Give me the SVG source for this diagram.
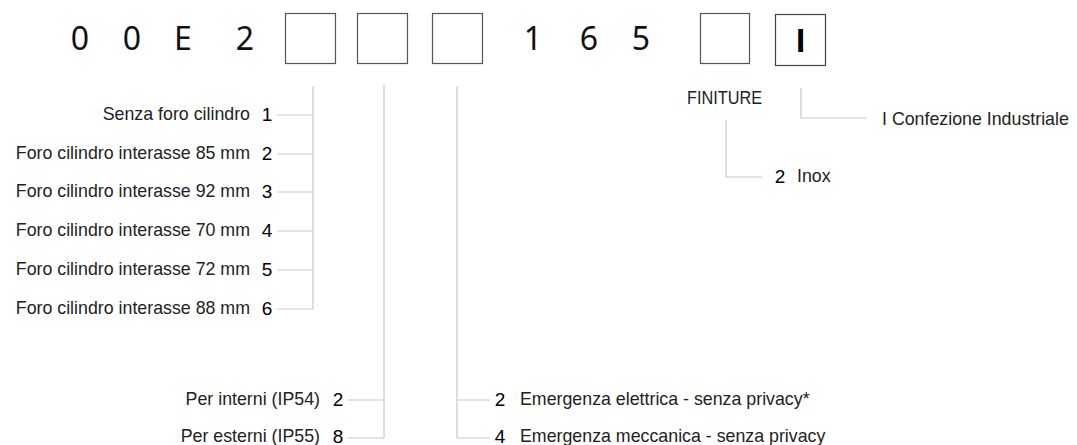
<svg xmlns="http://www.w3.org/2000/svg" width="1077" height="445" viewBox="0 0 1077 445">
<style>
.code{font-family:"Noto Sans","DejaVu Sans",sans-serif;font-size:32px;fill:#111;text-anchor:middle}
.bold{font-family:"Liberation Sans",Arial,sans-serif;font-weight:bold;font-size:33px;fill:#000;text-anchor:middle}
.box{fill:#fff;stroke:#555;stroke-width:1.2}
.lbl{font-family:"Liberation Sans",Arial,sans-serif;font-size:17.8px;fill:#222}
.num{font-family:"Liberation Sans",Arial,sans-serif;font-size:19px;fill:#000;text-anchor:middle}
.end{text-anchor:end}
.ln{fill:none;stroke:#c8c8c8;stroke-width:1.2}
</style>
<rect width="1077" height="445" fill="#fff"/>
<g id="code">
<text class="code" x="80" y="50">0</text>
<text class="code" x="132" y="50">0</text>
<text class="code" x="183" y="50">E</text>
<text class="code" x="245" y="50">2</text>
<rect class="box" x="285.5" y="13.5" width="50" height="50"/>
<rect class="box" x="357.5" y="13.5" width="50" height="50"/>
<rect class="box" x="432.5" y="13.5" width="50" height="50"/>
<text class="code" x="533" y="50">1</text>
<text class="code" x="589" y="50">6</text>
<text class="code" x="641" y="50">5</text>
<rect class="box" x="700.5" y="13.5" width="49" height="50"/>
<rect class="box" x="775.5" y="14.5" width="50" height="51" style="stroke:#444"/>
<text class="bold" x="800.5" y="52">I</text>
</g>
<g id="connectors">
<path class="ln" d="M313 86V309M277 115H313M277 154H313M277 192H313M277 231H313M277 270H313M277 309H313"/>
<path class="ln" d="M384 85V438M348 400H384M348 438H384"/>
<path class="ln" d="M457 86V438M457 400H490M457 438H490"/>
<path class="ln" d="M801 88V118H867"/>
<path class="ln" d="M726 120V177H762"/>
</g>
<g id="cilindro">
<text class="lbl end" x="250" y="120">Senza foro cilindro</text><text class="num" x="267" y="121">1</text>
<text class="lbl end" x="250" y="159">Foro cilindro interasse 85 mm</text><text class="num" x="267" y="160">2</text>
<text class="lbl end" x="250" y="197">Foro cilindro interasse 92 mm</text><text class="num" x="267" y="198">3</text>
<text class="lbl end" x="250" y="236">Foro cilindro interasse 70 mm</text><text class="num" x="267" y="237">4</text>
<text class="lbl end" x="250" y="275">Foro cilindro interasse 72 mm</text><text class="num" x="267" y="276">5</text>
<text class="lbl end" x="250" y="314">Foro cilindro interasse 88 mm</text><text class="num" x="267" y="315">6</text>
</g>
<g id="ambiente">
<text class="lbl end" x="320" y="405">Per interni (IP54)</text><text class="num" x="338" y="406">2</text>
<text class="lbl end" x="320" y="442">Per esterni (IP55)</text><text class="num" x="338" y="443">8</text>
</g>
<g id="emergenza">
<text class="num" x="500" y="406">2</text><text class="lbl" x="520" y="405">Emergenza elettrica - senza privacy*</text>
<text class="num" x="500" y="443">4</text><text class="lbl" x="520" y="442">Emergenza meccanica - senza privacy</text>
</g>
<g id="finiture">
<text class="lbl" x="687" y="104" textLength="75" lengthAdjust="spacingAndGlyphs">FINITURE</text>
<text class="num" x="780" y="183">2</text><text class="lbl" x="797" y="182">Inox</text>
</g>
<g id="confezione">
<text class="lbl" x="882" y="125">I Confezione Industriale</text>
</g>
</svg>
